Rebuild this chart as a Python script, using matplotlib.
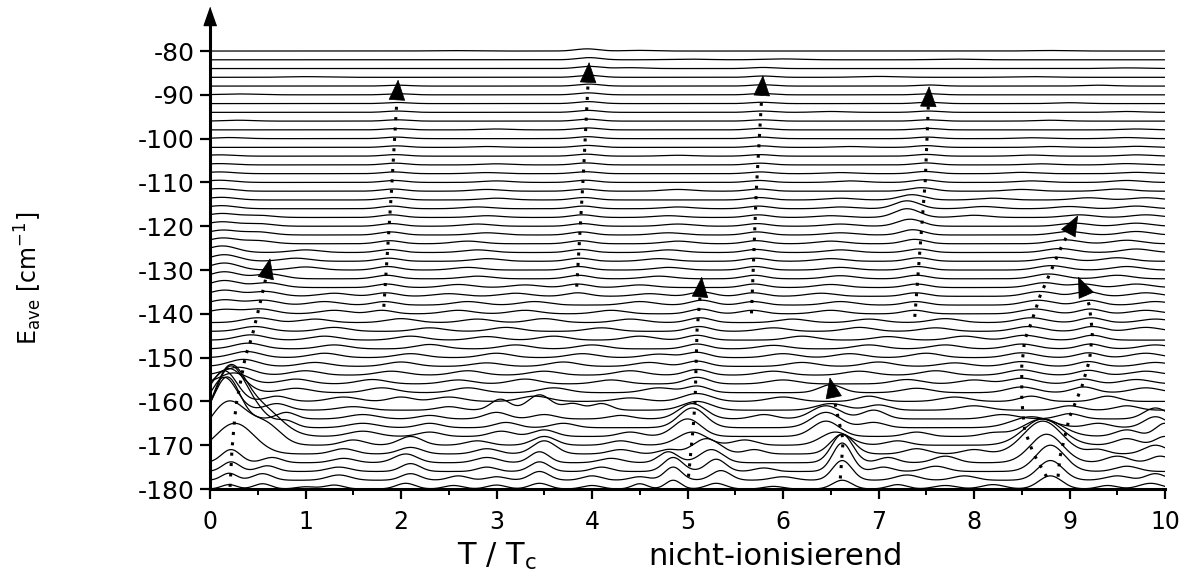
import numpy as np
import matplotlib
matplotlib.use("Agg")
import matplotlib.pyplot as plt
from matplotlib.ticker import MultipleLocator

plt.rcParams['font.family'] = ['DejaVu Sans']
plt.rcParams['axes.unicode_minus'] = False
plt.rcParams['mathtext.default'] = 'regular'

# baseline energy of every trace (cm^-1), one trace every 2 cm^-1
BASE_E = list(range(-180, -79, 2))

# bumps on each trace, bottom to top: (T/Tc position, height, width)
BUMPS = [
    [(0.2, 1.0, .08), (0.55, 1.2, .09), (1.0, 0.5, .1), (1.3, 0.9, .1), (2.05, 1.3, .1), (2.55, 0.8, .1),
     (3.0, 0.9, .1), (3.45, 1.3, .1), (4.0, 0.8, .1), (4.5, 1.2, .08), (4.85, 2.0, .08), (5.3, 1.3, .1),
     (5.9, 0.6, .1), (6.62, 2.0, .1), (7.2, 1.0, .1), (7.7, 0.8, .12), (8.2, 1.0, .12), (8.8, 3.0, .12),
     (9.4, 0.8, .1), (9.85, 1.3, .12)],
    [(0.2, 1.6, .08), (0.55, 1.5, .1), (1.35, 1.2, .12), (2.1, 1.5, .1), (2.6, 1.0, .1), (3.0, 0.8, .1),
     (3.45, 2.0, .1), (4.0, 1.0, .1), (4.5, 0.8, .1), (4.85, 3.0, .09), (5.35, 2.2, .1), (6.0, 0.8, .12),
     (6.62, 4.5, .1), (7.3, 1.2, .12), (7.9, 1.0, .12), (8.8, 4.5, .13), (9.5, 1.0, .12), (9.9, 1.5, .1)],
    [(0.22, 2.2, .09), (0.6, 1.3, .1), (1.35, 1.0, .12), (2.1, 1.8, .1), (2.9, 1.0, .1), (3.45, 2.2, .1),
     (4.1, 1.0, .1), (4.85, 3.2, .1), (5.3, 2.8, .1), (5.8, 0.8, .1), (6.62, 6.5, .1), (7.05, 1.0, .1),
     (7.6, 1.2, .12), (8.8, 6.0, .15), (9.6, 1.2, .12)],
    [(0.22, 3.0, .1), (0.65, 1.2, .1), (1.4, 1.0, .12), (2.05, 2.0, .12), (2.9, 1.2, .12), (3.45, 2.5, .1),
     (4.2, 1.0, .12), (4.8, 2.5, .1), (5.25, 3.0, .12), (6.62, 6.5, .11), (7.1, 1.2, .1), (7.7, 1.5, .12),
     (8.76, 6.5, .17), (9.5, 1.5, .12), (9.95, 1.5, .1)],
    [(0.26, 7.0, .2), (1.4, 1.2, .12), (2.1, 1.5, .12), (2.9, 1.2, .12), (3.5, 3.0, .12), (4.3, 1.0, .12),
     (4.8, 1.0, .1), (5.2, 3.5, .14), (5.7, 1.0, .1), (6.62, 4.5, .12), (7.4, 1.2, .12), (8.0, 1.0, .12),
     (8.72, 7.5, .2), (9.3, 1.0, .1), (9.9, 2.0, .12)],
    [(0.2, 10.0, .2), (0.6, 4.0, .15), (1.5, 1.2, .12), (2.1, 2.0, .12), (2.8, 1.0, .12), (3.5, 2.0, .12),
     (4.3, 1.0, .12), (5.05, 3.0, .15), (5.6, 1.2, .12), (6.55, 3.0, .15), (7.2, 1.0, .12), (8.72, 6.0, .2),
     (9.6, 1.5, .12), (10.0, 2.0, .1)],
    [(0.2, 15.0, .17), (0.55, 6.0, .2), (1.6, 1.2, .15), (2.3, 1.0, .12), (3.05, 1.2, .12), (3.5, 1.5, .12),
     (4.4, 1.0, .12), (5.0, 4.0, .14), (6.45, 3.5, .14), (7.4, 1.0, .12), (8.2, 0.8, .12), (8.72, 4.0, .2),
     (9.6, 1.5, .12), (10.0, 3.0, .1)],
    [(0.2, 13.0, .15), (0.45, 4.0, .15), (0.8, 1.5, .1), (1.6, 1.0, .15), (2.3, 1.0, .12), (3.1, 1.2, .12),
     (3.7, 1.0, .12), (5.05, 4.5, .14), (6.45, 3.5, .15), (6.95, 1.2, .12), (8.6, 2.5, .2), (9.3, 1.0, .12),
     (9.9, 2.5, .12)],
    [(0.18, 9.6, .13), (0.8, 1.5, .1), (1.6, 1.0, .15), (2.3, 0.8, .12), (3.0, 1.5, .12), (3.5, 1.0, .12),
     (4.3, 0.8, .12), (5.05, 3.5, .14), (5.8, 1.0, .12), (6.45, 3.0, .15), (6.95, 2.0, .12), (8.3, 1.0, .15),
     (9.0, 1.2, .12), (9.9, 2.5, .12)],
    [(0.15, 7.5, .13), (0.7, 1.5, .12), (1.5, 0.8, .15), (2.5, 0.8, .12), (3.04, 2.5, .1), (3.45, 3.5, .12),
     (3.8, 1.5, .1), (4.1, 1.5, .1), (5.1, 2.0, .15), (6.5, 1.5, .15), (7.0, 1.2, .12), (8.0, 1.0, .15),
     (9.0, 1.0, .12), (9.6, 1.0, .12)],
    [(0.15, 7.0, .13), (0.7, 1.2, .12), (1.4, 1.0, .15), (2.0, 1.0, .12), (2.5, 1.0, .15), (3.4, 1.2, .15),
     (4.4, 0.8, .15), (5.1, 1.8, .15), (6.0, 1.0, .15), (6.9, 1.2, .12), (7.8, 1.0, .15), (8.6, 1.2, .12),
     (9.4, 1.2, .12)],
    [(0.2, 5.5, .15), (0.9, 1.0, .15), (1.8, 1.1, .15), (2.7, 1.1, .15), (3.6, 1.1, .15), (4.7, 1.1, .15),
     (5.1, 1.5, .12), (6.5, 1.8, .12), (7.4, 1.0, .15), (8.5, 1.3, .15), (9.15, 1.3, .12), (9.8, 1.1, .15)],
    [(0.25, 2.5, .15), (0.9, 1.1, .15), (1.7, 1.0, .15), (2.6, 0.9, .15), (3.3, 1.1, .15), (4.2, 0.9, .15),
     (5.1, 1.5, .12), (6.0, 0.9, .15), (7.3, 1.0, .15), (8.0, 0.9, .15), (8.5, 1.3, .15), (9.15, 1.1, .12),
     (9.7, 1.0, .15)],
    [(0.3, 1.8, .15), (1.0, 1.0, .15), (1.9, 0.9, .15), (2.7, 1.0, .15), (3.5, 0.9, .15), (4.4, 1.0, .15),
     (5.1, 1.3, .12), (5.9, 0.9, .15), (6.8, 0.9, .15), (7.6, 1.0, .15), (8.5, 1.2, .15), (9.2, 1.1, .12),
     (9.8, 0.9, .15)],
    [(0.35, 1.6, .15), (1.1, 0.9, .15), (2.0, 1.0, .15), (2.9, 0.8, .15), (3.7, 1.0, .15), (4.6, 0.9, .15),
     (5.1, 1.2, .12), (6.2, 0.9, .15), (7.0, 1.0, .15), (7.8, 0.8, .15), (8.5, 1.1, .15), (9.2, 1.1, .12),
     (9.9, 0.9, .15)],
    [(0.38, 1.4, .15), (1.2, 1.0, .15), (2.1, 0.9, .15), (3.0, 1.0, .15), (3.9, 0.9, .15), (4.7, 0.8, .15),
     (5.1, 1.2, .12), (6.0, 0.9, .15), (6.7, 0.9, .15), (7.5, 1.0, .15), (8.5, 1.1, .15), (9.2, 1.1, .12),
     (9.8, 1.0, .15)],
    [(0.4, 1.3, .15), (1.3, 0.9, .15), (2.3, 1.0, .15), (3.2, 0.9, .15), (4.0, 0.9, .15), (5.1, 1.1, .12),
     (5.9, 0.8, .15), (6.9, 0.9, .15), (7.7, 0.9, .15), (8.5, 1.1, .15), (9.22, 1.1, .12), (9.9, 0.9, .15)],
    [(0.43, 1.2, .15), (1.2, 0.9, .15), (2.1, 0.9, .15), (2.9, 0.8, .15), (3.6, 0.9, .15), (4.5, 0.9, .15),
     (5.1, 1.1, .12), (6.2, 0.9, .15), (7.1, 0.8, .15), (7.9, 0.9, .15), (8.53, 1.1, .15), (9.24, 1.1, .12)],
    [(0.47, 1.1, .15), (1.3, 0.9, .15), (2.3, 0.8, .15), (3.1, 0.9, .15), (4.1, 0.8, .15), (5.12, 1.1, .12),
     (5.9, 0.8, .15), (6.8, 0.9, .15), (7.6, 0.8, .15), (8.57, 1.1, .15), (9.24, 1.1, .12), (9.8, 0.9, .15)],
    [(0.5, 1.1, .15), (1.1, 0.8, .15), (2.0, 0.9, .15), (2.8, 0.8, .15), (3.5, 0.9, .15), (4.4, 0.8, .15),
     (5.13, 1.1, .12), (6.1, 0.8, .15), (6.9, 0.8, .15), (7.7, 0.9, .15), (8.6, 1.1, .15), (9.23, 1.1, .12),
     (9.9, 0.8, .15)],
    [(0.15, 1.0, .15), (0.53, 1.1, .15), (1.3, 0.8, .15), (1.8, 0.8, .12), (2.6, 0.8, .15), (3.3, 0.8, .15),
     (4.2, 0.8, .15), (5.14, 1.1, .12), (5.68, 0.8, .12), (6.5, 0.8, .15), (7.38, 0.8, .12), (8.64, 1.1, .15),
     (9.22, 1.1, .12), (9.8, 0.8, .15)],
    [(0.15, 1.2, .15), (0.56, 1.1, .15), (1.2, 0.8, .15), (1.83, 0.8, .12), (2.7, 0.8, .15), (3.4, 0.8, .15),
     (4.5, 0.8, .15), (5.15, 1.1, .12), (5.69, 0.8, .12), (6.6, 0.8, .15), (7.39, 0.8, .12), (8.67, 1.1, .15),
     (9.21, 1.1, .12), (9.9, 0.8, .15)],
    [(0.15, 1.4, .15), (0.58, 1.1, .15), (1.3, 0.7, .15), (1.84, 0.8, .12), (2.5, 0.6, .15), (3.2, 0.7, .15),
     (3.85, 0.8, .12), (4.6, 0.6, .15), (5.15, 1.0, .12), (5.69, 0.8, .12), (6.4, 0.7, .15), (7.39, 0.8, .12),
     (8.69, 1.1, .15), (9.18, 1.1, .12), (9.8, 0.8, .15)],
    [(0.15, 1.6, .15), (0.6, 1.1, .15), (1.85, 0.8, .12), (2.6, 0.7, .15), (3.3, 0.6, .15), (3.85, 0.8, .12),
     (4.5, 0.6, .15), (5.7, 0.8, .12), (6.5, 0.7, .15), (7.4, 0.8, .12), (8.74, 1.1, .15), (9.15, 0.8, .12),
     (9.7, 0.8, .15)],
    [(0.15, 1.6, .15), (0.62, 1.1, .15), (1.85, 0.8, .12), (2.8, 0.6, .15), (3.86, 0.8, .12), (4.7, 0.6, .15),
     (5.7, 0.8, .12), (6.6, 0.7, .15), (7.4, 0.8, .12), (8.78, 1.1, .15), (9.5, 0.8, .15)],
    [(0.15, 1.6, .15), (1.0, 0.7, .15), (1.86, 0.8, .12), (2.7, 0.6, .15), (3.86, 0.8, .12), (4.8, 0.6, .15),
     (5.71, 0.8, .12), (6.6, 0.6, .15), (7.41, 0.8, .12), (8.81, 1.0, .15), (9.6, 0.8, .15)],
    [(0.15, 1.5, .15), (0.9, 0.7, .15), (1.87, 0.7, .12), (2.9, 0.6, .15), (3.87, 0.7, .12), (4.7, 0.6, .15),
     (5.71, 0.7, .12), (6.5, 0.6, .15), (7.42, 0.8, .12), (8.86, 0.9, .15), (9.5, 0.8, .15)],
    [(0.13, 1.5, .15), (1.0, 0.6, .15), (1.88, 0.7, .12), (2.8, 0.6, .15), (3.88, 0.7, .12), (4.8, 0.6, .15),
     (5.72, 0.7, .12), (6.6, 0.6, .15), (7.42, 0.8, .12), (8.9, 0.9, .15), (9.7, 0.8, .15)],
    [(0.13, 1.3, .15), (0.5, 0.7, .15), (1.88, 0.7, .12), (2.7, 0.6, .15), (3.88, 0.7, .12), (4.9, 0.6, .15),
     (5.72, 0.7, .12), (6.5, 0.6, .15), (7.38, 1.0, .12), (8.95, 0.9, .15), (9.6, 0.8, .15)],
    [(0.13, 1.1, .15), (0.5, 0.7, .15), (1.89, 0.7, .12), (2.9, 0.5, .15), (3.89, 0.7, .12), (4.8, 0.5, .15),
     (5.73, 0.7, .12), (6.6, 0.5, .15), (7.36, 1.2, .12), (8.99, 0.8, .15), (9.7, 0.8, .15)],
    [(0.12, 1.0, .15), (0.5, 0.6, .15), (1.9, 0.6, .12), (2.8, 0.5, .15), (3.9, 0.6, .12), (4.9, 0.5, .15),
     (5.73, 0.6, .12), (6.6, 0.5, .15), (7.33, 1.6, .13), (9.05, 0.7, .15), (9.7, 0.7, .15)],
    [(0.12, 0.9, .15), (0.5, 0.5, .15), (1.9, 0.6, .12), (2.9, 0.4, .15), (3.9, 0.6, .12), (4.8, 0.4, .15),
     (5.74, 0.6, .12), (6.5, 0.4, .15), (7.3, 2.0, .13), (8.0, 0.5, .15), (9.1, 0.6, .15), (9.8, 0.6, .15)],
    [(0.12, 0.7, .15), (1.91, 0.6, .12), (2.8, 0.4, .15), (3.91, 0.6, .12), (4.9, 0.4, .15), (5.74, 0.6, .12),
     (6.6, 0.4, .15), (7.3, 1.8, .13), (8.1, 0.5, .15), (9.0, 0.5, .15), (9.7, 0.6, .15)],
    [(0.12, 0.6, .15), (1.92, 0.55, .12), (3.0, 0.4, .15), (3.92, 0.55, .12), (5.75, 0.55, .12), (6.6, 0.4, .15),
     (7.35, 1.2, .13), (8.2, 0.4, .15), (9.2, 0.5, .15), (9.8, 0.5, .15)],
    [(0.1, 0.6, .15), (1.92, 0.5, .12), (2.9, 0.4, .15), (3.92, 0.5, .12), (4.9, 0.4, .15), (5.75, 0.5, .12),
     (7.45, 0.8, .13), (8.5, 0.4, .15), (9.5, 0.5, .15)],
    [(0.1, 0.5, .15), (1.93, 0.45, .12), (3.0, 0.35, .15), (3.93, 0.5, .12), (5.75, 0.45, .12), (6.7, 0.35, .15),
     (7.48, 0.6, .12), (8.6, 0.35, .15), (9.6, 0.45, .15)],
    [(0.1, 0.4, .15), (1.93, 0.4, .12), (2.9, 0.25, .15), (3.93, 0.45, .12), (5.76, 0.4, .12), (6.6, 0.25, .15),
     (7.49, 0.5, .12), (8.5, 0.3, .15), (9.7, 0.3, .15)],
    [(0.1, 0.3, .15), (1.94, 0.4, .12), (3.0, 0.25, .15), (3.94, 0.45, .12), (5.76, 0.4, .12), (7.5, 0.45, .12),
     (8.7, 0.25, .15), (9.6, 0.3, .15)],
    [(0.1, 0.3, .15), (1.94, 0.35, .12), (3.94, 0.45, .12), (4.9, 0.2, .15), (5.76, 0.35, .12), (7.5, 0.4, .12),
     (8.6, 0.25, .15), (9.7, 0.3, .15)],
    [(1.95, 0.35, .12), (2.9, 0.2, .15), (3.95, 0.45, .12), (5.77, 0.35, .12), (6.7, 0.2, .15), (7.5, 0.4, .12),
     (8.8, 0.2, .15), (9.7, 0.25, .15)],
    [(0.2, 0.25, .15), (1.95, 0.35, .12), (3.95, 0.45, .12), (5.77, 0.35, .12), (7.51, 0.35, .12), (8.6, 0.2, .15),
     (9.6, 0.25, .15)],
    [(1.95, 0.3, .12), (3.0, 0.2, .15), (3.95, 0.45, .12), (5.77, 0.35, .12), (7.51, 0.35, .12), (9.7, 0.2, .15)],
    [(0.3, 0.2, .15), (1.96, 0.3, .12), (3.96, 0.45, .12), (5.78, 0.3, .12), (7.52, 0.3, .12), (8.8, 0.2, .15)],
    [(1.96, 0.3, .12), (3.96, 0.45, .12), (5.78, 0.3, .12), (6.5, 0.2, .15), (7.52, 0.3, .12), (9.6, 0.2, .15)],
    [(1.96, 0.25, .12), (3.96, 0.45, .12), (5.78, 0.3, .12), (7.52, 0.3, .12), (9.0, 0.2, .15)],
    [(0.3, 0.2, .2), (1.97, 0.25, .12), (3.96, 0.45, .12), (5.78, 0.3, .12), (7.53, 0.25, .12)],
    [(1.97, 0.2, .12), (3.97, 0.45, .12), (5.79, 0.3, .12), (7.53, 0.25, .12), (9.3, 0.2, .15)],
    [(1.0, 0.15, .2), (3.97, 0.45, .12), (5.79, 0.3, .12), (7.0, 0.2, .2), (8.6, 0.15, .2)],
    [(3.97, 0.5, .12), (4.4, 0.2, .15), (5.79, 0.25, .12), (9.6, 0.15, .2)],
    [(3.97, 0.5, .12), (5.0, 0.15, .2), (6.0, 0.2, .2), (7.8, 0.15, .2)],
    [(2.5, 0.1, .2), (3.95, 0.5, .12), (4.5, 0.15, .15), (8.8, 0.12, .2)],
]

# dotted guide arrows (T/Tc, E) from tail to head
ARROWS = [
    [(0.21, -179.5), (0.23, -171), (0.26, -163.5), (0.28, -160), (0.33, -154.4), (0.37, -149.8),
     (0.44, -145.2), (0.52, -138), (0.58, -132.3), (0.63, -127.3)],
    [(1.82, -138.4), (1.90, -112), (1.97, -86.5)],
    [(3.84, -133.8), (3.91, -108), (3.97, -82.5)],
    [(5.01, -177.2), (5.06, -165.8), (5.08, -159.7), (5.10, -143.7), (5.15, -131.5)],
    [(6.60, -177.6), (6.63, -168.8), (6.56, -162), (6.53, -158.9), (6.49, -154.5)],
    [(5.67, -139.9), (5.72, -112), (5.79, -85.5)],
    [(7.38, -140.7), (7.49, -109.5), (7.53, -88.0)],
    [(8.76, -177.2), (8.62, -171.8), (8.53, -166.5), (8.50, -159.7), (8.50, -152), (8.53, -146),
     (8.60, -142), (8.69, -136), (8.81, -130), (8.90, -125.4), (8.99, -121.5), (9.09, -117.5)],
    [(8.88, -177.2), (8.90, -172.7), (9.00, -163.6), (9.13, -156.6), (9.21, -150.5), (9.24, -144.3),
     (9.21, -138.4), (9.18, -136), (9.09, -131.5)],
]

x = np.linspace(0, 10, 1501)

fig = plt.figure(figsize=(11.93, 5.82), dpi=100)
ax = fig.add_axes([210 / 1193, 93 / 582, 955 / 1193, 473 / 582])
ax.set_xlim(0, 10)
ax.set_ylim(-180, -72)

for base, bumps in zip(BASE_E, BUMPS):
    y = np.full_like(x, float(base))
    for x0, amp, sig in bumps:
        y += amp * np.exp(-0.5 * ((x - x0) / sig) ** 2)
    ax.plot(x, y, color='black', lw=0.9, solid_joinstyle='round')

to_px = ax.transData
from_px = ax.transData.inverted()
for path in ARROWS:
    pts = to_px.transform(path)
    # the dotted shaft stops where the filled head begins
    d = pts[-1] - pts[-2]
    d = d / np.hypot(*d)
    tail_px = pts[-1] - d * 16
    shaft = from_px.transform(np.vstack([pts[:-1], tail_px]))
    tip = path[-1]
    tail = tuple(from_px.transform(tail_px))
    ax.plot(shaft[:, 0], shaft[:, 1], color='black', lw=2.2,
            linestyle=(0, (1, 2.4)), dash_capstyle='butt')
    ax.annotate('', xy=tip, xytext=tail,
                arrowprops=dict(arrowstyle='-|>,head_length=0.7,head_width=0.28',
                                mutation_scale=20, color='black', lw=0.5,
                                shrinkA=0, shrinkB=0))

ax.set_xticks(range(0, 11))
ax.xaxis.set_minor_locator(MultipleLocator(0.5))
ax.set_yticks(range(-180, -79, 10))

for side in ('top', 'right'):
    ax.spines[side].set_visible(False)
for side in ('left', 'bottom'):
    ax.spines[side].set_linewidth(2.2)

ax.tick_params(axis='both', which='major', direction='out', length=7, width=1.6,
               labelsize=17, color='black')
ax.tick_params(axis='x', which='major', pad=8)
ax.tick_params(axis='y', which='major', pad=4, labelsize=18)
ax.tick_params(axis='x', which='minor', direction='out', length=4, width=1.4)

# arrow head on the energy axis
ax.plot([0], [1], marker=[(0, 1), (-0.7, -1), (0.7, -1)], ms=13, color='black',
        transform=ax.transAxes, clip_on=False)

fig.text(457 / 1193, 1 - 565 / 582, r'T / T$_{\mathrm{c}}$', fontsize=22, ha='left', va='baseline')
fig.text(648 / 1193, 1 - 565 / 582, 'nicht-ionisierend', fontsize=22, ha='left', va='baseline')
fig.text(28 / 1193, 1 - 278 / 582, r'E$_{\mathrm{ave}}$ [cm$^{\mathrm{-1}}$]', fontsize=17,
         rotation=90, ha='center', va='center')

fig.savefig('out.png', dpi=100)
